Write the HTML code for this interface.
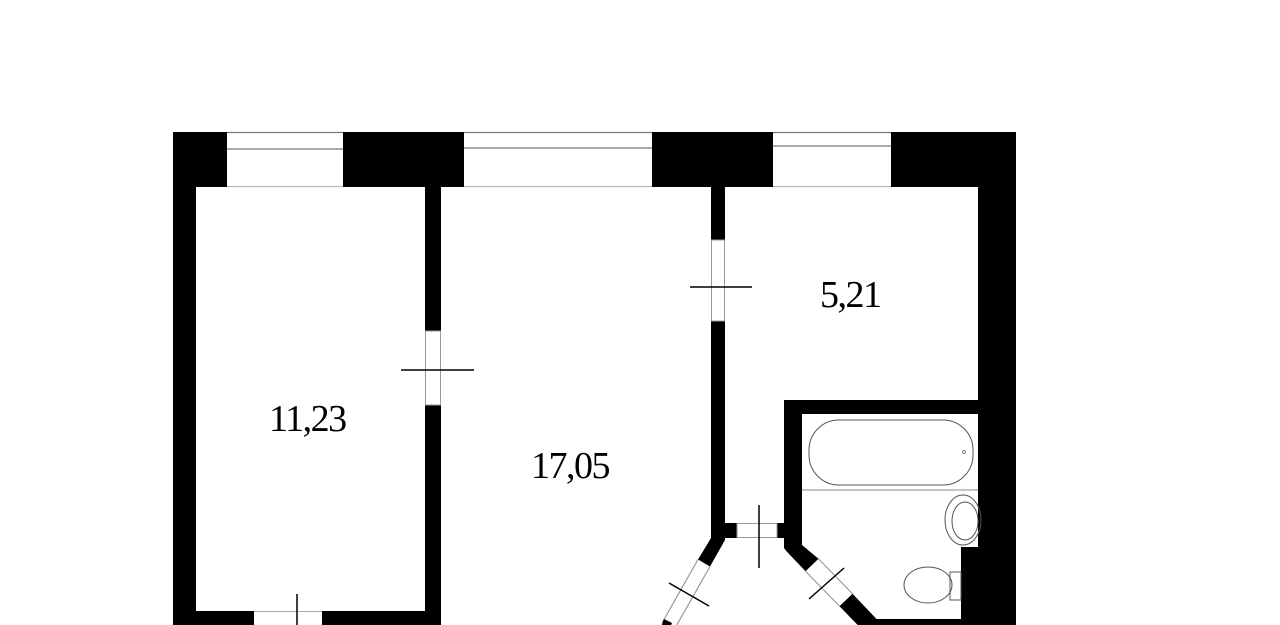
<!DOCTYPE html>
<html><head><meta charset="utf-8"><style>
html,body{margin:0;padding:0;background:#fff;width:1280px;height:625px;overflow:hidden}
svg{display:block}
text{font-family:"Liberation Serif",serif;font-size:38px;fill:#000;letter-spacing:-1.5px}
</style></head><body>
<svg width="1280" height="625" viewBox="0 0 1280 625">
<!-- top wall -->
<rect x="173" y="132" width="54" height="55" fill="#000"/>
<rect x="343" y="132" width="121" height="55" fill="#000"/>
<rect x="652" y="132" width="121" height="55" fill="#000"/>
<rect x="891" y="132" width="125" height="55" fill="#000"/>
<g stroke="#777" stroke-width="1.2">
<line x1="227" y1="132.5" x2="343" y2="132.5"/><line x1="227" y1="149" x2="343" y2="149"/><line x1="227" y1="186.5" x2="343" y2="186.5" stroke="#bbb"/>
<line x1="464" y1="132.5" x2="652" y2="132.5"/><line x1="464" y1="148" x2="652" y2="148"/><line x1="464" y1="186.5" x2="652" y2="186.5" stroke="#bbb"/>
<line x1="773" y1="132.5" x2="891" y2="132.5"/><line x1="773" y1="146" x2="891" y2="146"/><line x1="773" y1="186.5" x2="891" y2="186.5" stroke="#bbb"/>
</g>
<!-- left outer wall -->
<rect x="173" y="132" width="23" height="493" fill="#000"/>
<!-- right outer wall -->
<rect x="978" y="132" width="38" height="493" fill="#000"/>
<rect x="961" y="547" width="55" height="78" fill="#000"/>
<!-- interior wall 1 -->
<rect x="425" y="187" width="16" height="144" fill="#000"/>
<rect x="425" y="405" width="16" height="220" fill="#000"/>
<rect x="425.5" y="331" width="15" height="74" fill="none" stroke="#999" stroke-width="1"/>
<line x1="401" y1="370" x2="474" y2="370" stroke="#000" stroke-width="1.5"/>
<!-- left room bottom -->
<rect x="173" y="611" width="81" height="14" fill="#000"/>
<rect x="322" y="611" width="119" height="14" fill="#000"/>
<line x1="254" y1="611.5" x2="322" y2="611.5" stroke="#aaa"/>
<line x1="297" y1="594" x2="297" y2="625" stroke="#000" stroke-width="1.5"/>
<!-- interior wall 2 -->
<rect x="711" y="187" width="14" height="53" fill="#000"/>
<rect x="711" y="321" width="14" height="217" fill="#000"/>
<rect x="711.5" y="240" width="13" height="81" fill="none" stroke="#999"/>
<line x1="690" y1="287" x2="752" y2="287" stroke="#000" stroke-width="1.5"/>
<!-- small corridor bottom -->
<rect x="711" y="523" width="26" height="15" fill="#000"/>
<rect x="777" y="523" width="25" height="15" fill="#000"/>
<rect x="737" y="523.5" width="40" height="14" fill="none" stroke="#999"/>
<line x1="759" y1="505" x2="759" y2="568" stroke="#000" stroke-width="1.5"/>
<!-- diagonal left -->
<polygon points="711,536 725,536 725,540 710,566.5 698,559.5 711,538" fill="#000"/>
<line x1="698" y1="559.5" x2="662" y2="623" stroke="#888"/>
<line x1="710" y1="566.5" x2="674" y2="630" stroke="#888"/>
<polygon points="664,619 672,623 669,630 660,630" fill="#000"/>
<line x1="669" y1="583" x2="709" y2="606" stroke="#000" stroke-width="1.5"/>
<!-- bathroom walls -->
<rect x="784" y="400" width="194" height="14" fill="#000"/>
<rect x="784" y="400" width="18" height="145" fill="#000"/>
<polygon points="784,536 802,536 802,545 818.5,558.8 805.5,571.2 786.5,551.2 784,548" fill="#000"/>
<line x1="805.5" y1="571.2" x2="839.5" y2="606.2" stroke="#888"/>
<line x1="818.5" y1="558.8" x2="852.5" y2="593.8" stroke="#888"/>
<polygon points="839.5,606.2 852.5,593.8 876.5,619 961,619 961,625 863.5,631" fill="#000"/>
<line x1="809" y1="599" x2="844" y2="568" stroke="#000" stroke-width="1.5"/>
<!-- bathtub -->
<rect x="809" y="420" width="164" height="65" rx="30" fill="none" stroke="#555" stroke-width="1"/>
<line x1="802" y1="490" x2="978" y2="490" stroke="#888"/>
<circle cx="964" cy="452" r="1.5" fill="none" stroke="#555" stroke-width="0.7"/>
<!-- sink -->
<ellipse cx="963" cy="520" rx="18" ry="25" fill="none" stroke="#555"/>
<ellipse cx="965" cy="521" rx="13" ry="19" fill="none" stroke="#555"/>
<!-- toilet -->
<ellipse cx="928" cy="585" rx="24" ry="18" fill="none" stroke="#555"/>
<rect x="950" y="572" width="11" height="28" fill="none" stroke="#555"/>
<text x="269" y="431">11,23</text>
<text x="531" y="478">17,05</text>
<text x="820" y="307">5,21</text>
</svg>
</body></html>
